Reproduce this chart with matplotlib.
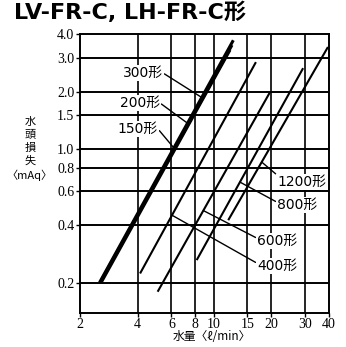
import matplotlib
matplotlib.use('Agg')
import matplotlib.pyplot as plt
import numpy as np
from matplotlib.ticker import FixedLocator, FixedFormatter, NullLocator

cjk = ['Noto Sans CJK JP', 'DejaVu Sans']
latin_cjk = ['DejaVu Sans', 'Noto Sans CJK JP']

# data: flow (l/min) and head loss (mAq) at each end of a line
models = ['150形', '200形', '300形', '400形', '600形', '800形', '1200形']
flow_start = [2.58, 2.55, 2.53, 4.12, 5.09, 8.14, 11.9]
head_start = [0.20, 0.20, 0.20, 0.223, 0.179, 0.262, 0.424]
flow_end = [12.15, 12.45, 12.65, 16.6, 19.7, 29.3, 39.5]
head_end = [3.30, 3.50, 3.71, 2.85, 1.99, 2.65, 3.42]
line_widths = [2.2, 2.2, 2.2, 1.5, 1.5, 1.5, 1.5]

# where each leader touches its line (flow value) and where its label sits (figure pixels)
leader_flow = [6.27, 7.36, 8.65, 6.05, 8.82, 13.7, 17.8]
label_xy = [(158, 347 - 129), (160, 347 - 103), (163, 347 - 73),
            (257, 347 - 266), (257, 347 - 241), (277, 347 - 205), (277, 347 - 182)]
label_ha = ['right', 'right', 'right', 'left', 'left', 'left', 'left']
label_rel = [(1, 0.5), (1, 0.5), (1, 0.5), (0, 0.7), (0, 0.7), (0, 0.7), (0, 1.0)]

x_ticks = [2, 4, 6, 8, 10, 15, 20, 30, 40]
x_labels = ['2', '4', '6', '8', '10', '15', '20', '30', '40']
y_ticks = [0.2, 0.4, 0.6, 0.8, 1.0, 1.5, 2.0, 3.0, 4.0]
y_labels = ['0.2', '0.4', '0.6', '0.8', '1.0', '1.5', '2.0', '3.0', '4.0']

fig = plt.figure(figsize=(3.46, 3.47), dpi=100)
ax = fig.add_axes([80 / 346, 1 - 312.7 / 347, 249 / 346, (312.7 - 34) / 347])
ax.set_xscale('log')
ax.set_yscale('log')
ax.set_xlim(2, 40)
ax.set_ylim(0.139, 4.0)

ax.xaxis.set_major_locator(FixedLocator(x_ticks))
ax.xaxis.set_major_formatter(FixedFormatter(x_labels))
ax.yaxis.set_major_locator(FixedLocator(y_ticks))
ax.yaxis.set_major_formatter(FixedFormatter(y_labels))
ax.xaxis.set_minor_locator(NullLocator())
ax.yaxis.set_minor_locator(NullLocator())
ax.tick_params(length=3, width=1.0, color='black', pad=1.0, labelsize=10,
               labelfontfamily='Liberation Serif')

for v in x_ticks[1:-1]:
    ax.axvline(v, color='black', lw=1.2, zorder=1)
for v in y_ticks[:-1]:
    ax.axhline(v, color='black', lw=1.4, zorder=1)
for s in ax.spines.values():
    s.set_linewidth(1.4)

for i, name in enumerate(models):
    ax.plot([flow_start[i], flow_end[i]], [head_start[i], head_end[i]],
            color='black', lw=line_widths[i], solid_capstyle='butt', zorder=3)
    # head at the leader point, on the straight log-log line
    t = (np.log(leader_flow[i]) - np.log(flow_start[i])) / (np.log(flow_end[i]) - np.log(flow_start[i]))
    h = np.exp(np.log(head_start[i]) + t * (np.log(head_end[i]) - np.log(head_start[i])))
    ax.annotate(name, xy=(leader_flow[i], h), xycoords='data',
                xytext=label_xy[i], textcoords='figure pixels',
                ha=label_ha[i], va='center', fontsize=10, family=latin_cjk,
                bbox=dict(boxstyle='square,pad=0.1', fc='white', ec='none'),
                arrowprops=dict(arrowstyle='-', color='black', lw=1.0,
                                shrinkA=0, shrinkB=0, relpos=label_rel[i]),
                zorder=5)

fig.text(14 / 346, 1 - 18.5 / 347, 'LV-FR-C, LH-FR-C形', fontsize=16, family=latin_cjk,
         weight='bold', ha='left', va='baseline')
fig.text(212 / 346, 1 - 337 / 347, '水量〈ℓ/min〉', fontsize=8.5, family=cjk,
         ha='center', va='center')
fig.text(30 / 346, 1 - 149 / 347, '水\n頭\n損\n失\n〈mAq〉', fontsize=8, family=cjk,
         ha='center', va='center', linespacing=1.35)

fig.savefig('out.png', dpi=100)
